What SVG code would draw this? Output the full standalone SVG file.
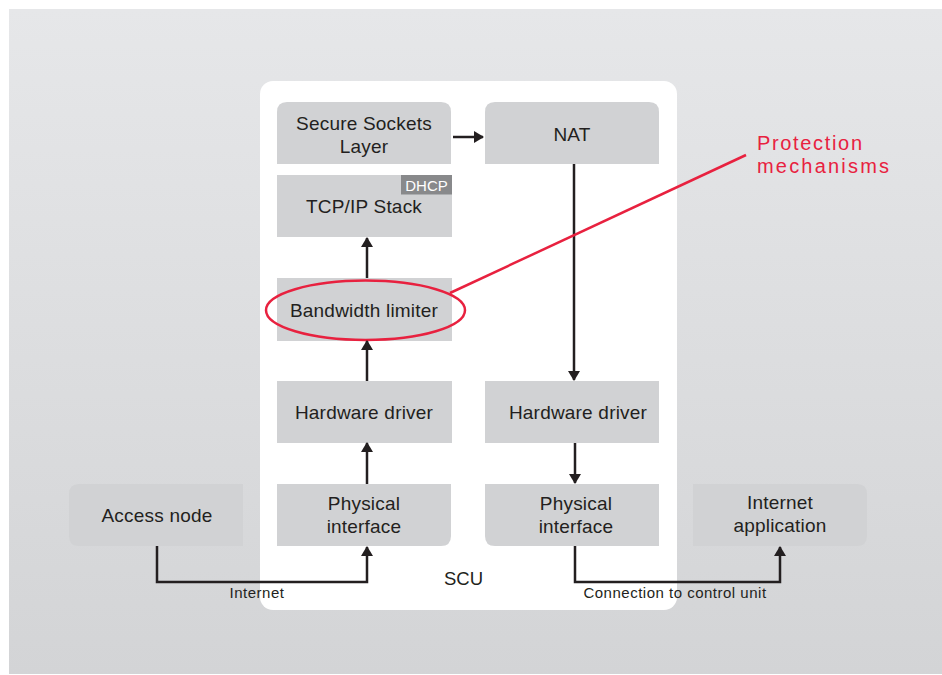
<svg xmlns="http://www.w3.org/2000/svg" width="942" height="675" viewBox="0 0 942 675">
<defs>
<linearGradient id="bg" x1="0" y1="0" x2="0" y2="1">
<stop offset="0" stop-color="#e6e7e9"/>
<stop offset="1" stop-color="#d3d4d6"/>
</linearGradient>
<marker id="ah" viewBox="0 0 10 12" refX="9" refY="6" markerWidth="10" markerHeight="12" markerUnits="userSpaceOnUse" orient="auto">
<path d="M0,0 L10,6 L0,12 Z" fill="#231f20"/>
</marker>
<style>
.nd{fill:#d1d2d4}
.t{font-family:"Liberation Sans",Arial,sans-serif;font-size:19px;fill:#231f20;text-anchor:middle;letter-spacing:0.2px}
.s{font-family:"Liberation Sans",Arial,sans-serif;font-size:15px;fill:#231f20;text-anchor:middle;letter-spacing:0.5px}
.c{fill:none;stroke:#231f20;stroke-width:2.5}
.r{fill:none;stroke:#e8213f;stroke-width:2.5}
.red{font-family:"Liberation Sans",Arial,sans-serif;font-size:20px;fill:#e8213f}
</style>
</defs>
<rect x="0" y="0" width="942" height="675" fill="#ffffff"/>
<rect x="9" y="9" width="933" height="665" fill="url(#bg)"/>
<g id="scu">
<rect x="260" y="81" width="417" height="529" rx="13" fill="#ffffff"/>
<text class="t" x="463.5" y="584.5" style="font-size:18.5px;letter-spacing:0">SCU</text>
</g>
<g id="ssl">
<path class="nd" d="M277,164 V112 Q277,102 287,102 H441 Q451,102 451,112 V164 Z"/>
<text class="t" x="364" y="130">Secure Sockets</text>
<text class="t" x="364" y="152.7">Layer</text>
</g>
<g id="nat">
<path class="nd" d="M485,164 V112 Q485,102 495,102 H649 Q659,102 659,112 V164 Z"/>
<text class="t" x="572" y="141">NAT</text>
</g>
<g id="tcpip">
<rect class="nd" x="277" y="175" width="175" height="62"/>
<rect x="401" y="175" width="51" height="19.5" fill="#88898b"/>
<text x="426.5" y="191" style="font-family:'Liberation Sans',Arial,sans-serif;font-size:15px;fill:#ffffff;text-anchor:middle">DHCP</text>
<text class="t" x="364" y="212.7">TCP/IP Stack</text>
</g>
<g id="bandwidth">
<rect class="nd" x="277" y="278" width="175" height="63"/>
<text class="t" x="364" y="316.7">Bandwidth limiter</text>
</g>
<g id="hw-left">
<rect class="nd" x="277" y="381" width="175" height="62"/>
<text class="t" x="364" y="419.3">Hardware driver</text>
</g>
<g id="hw-right">
<rect class="nd" x="485" y="381" width="174" height="62"/>
<text class="t" x="578" y="419.3">Hardware driver</text>
</g>
<g id="phys-left">
<path class="nd" d="M277,484 H451 V536 Q451,546 441,546 H277 Z"/>
<text class="t" x="364" y="510">Physical</text>
<text class="t" x="364" y="533">interface</text>
</g>
<g id="phys-right">
<path class="nd" d="M485,484 H659 V546 H495 Q485,546 485,536 Z"/>
<text class="t" x="576" y="510">Physical</text>
<text class="t" x="576" y="533">interface</text>
</g>
<g id="access-node">
<path class="nd" d="M79,484 H243 V546 H79 Q69,546 69,536 V494 Q69,484 79,484 Z"/>
<text class="t" x="157" y="521.7">Access node</text>
</g>
<g id="internet-app">
<path class="nd" d="M693,484 H857 Q867,484 867,494 V536 Q867,546 857,546 H693 Z"/>
<text class="t" x="780" y="509">Internet</text>
<text class="t" x="780" y="532">application</text>
</g>
<g id="protection">
<ellipse class="r" cx="365.5" cy="310.3" rx="99.5" ry="29.7"/>
<text class="red" x="757" y="150" textLength="105" lengthAdjust="spacing">Protection</text>
<text class="red" x="757" y="173" textLength="132" lengthAdjust="spacing">mechanisms</text>
</g>
<g id="connectors">
<path class="c" d="M453,137 H483" marker-end="url(#ah)"/>
<path class="c" d="M574,164 V380" marker-end="url(#ah)"/>
<path class="c" d="M575,443 V483" marker-end="url(#ah)"/>
<path class="c" d="M367,484 V443" marker-end="url(#ah)"/>
<path class="c" d="M367,381 V341" marker-end="url(#ah)"/>
<path class="c" d="M367,278 V238" marker-end="url(#ah)"/>
<path class="c" d="M157,546 V582 H367 V547" marker-end="url(#ah)"/>
<path class="c" d="M575,546 V582 H780 V547" marker-end="url(#ah)"/>
<path class="r" d="M450,293 L746,155"/>
<text class="s" x="257" y="597.5">Internet</text>
<text class="s" x="675" y="597.5">Connection to control unit</text>
</g>
</svg>
